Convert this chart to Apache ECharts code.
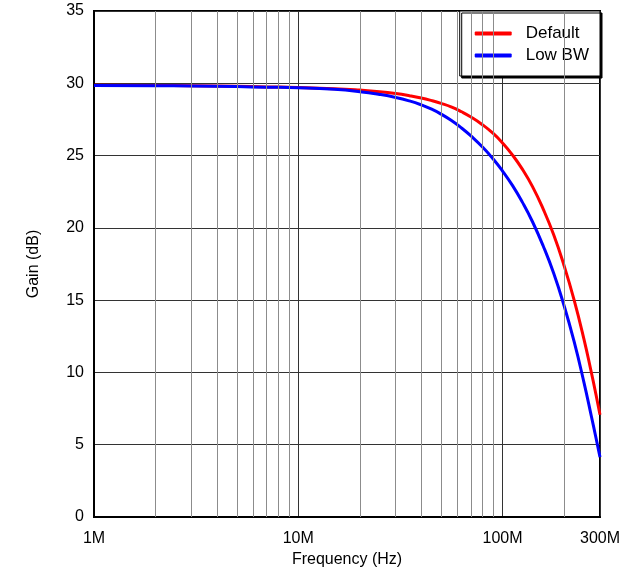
<!DOCTYPE html>
<html>
<head>
<meta charset="utf-8">
<script src="https://cdn.jsdelivr.net/npm/echarts@6/dist/echarts.min.js"></script>
<style>
html,body{margin:0;padding:0;background:#fff;}
#chart{width:634px;height:571px;}
</style>
</head>
<body>
<div id="chart"></div>
<script>
// Frequency in MHz
const freqMHz = [1, 2, 3, 5, 7, 10, 15, 20, 25, 30, 35, 40, 45, 50, 56, 63, 70, 80, 90, 100, 112, 125, 140, 158, 178, 200, 224, 250, 272, 287, 300];
const gainDefault = [29.86, 29.85, 29.83, 29.79, 29.75, 29.71, 29.63, 29.53, 29.42, 29.29, 29.14, 28.98, 28.8, 28.61, 28.37, 28.03, 27.67, 27.12, 26.53, 25.87, 25.03, 24.06, 22.87, 21.31, 19.52, 17.4, 15.02, 12.34, 10.01, 8.44, 7.07];
const gainLowBW = [29.84, 29.83, 29.81, 29.77, 29.73, 29.69, 29.58, 29.42, 29.23, 29.02, 28.78, 28.51, 28.21, 27.87, 27.44, 26.91, 26.36, 25.57, 24.76, 23.93, 22.92, 21.78, 20.44, 18.76, 16.86, 14.63, 12.14, 9.35, 6.99, 5.45, 4.14];
const minorGridMHz = [2, 3, 4, 5, 6, 7, 8, 9, 20, 30, 40, 50, 60, 70, 80, 90, 200];
const seriesNames = ['Default', 'Low BW'];
const yTicks = [0, 5, 10, 15, 20, 25, 30, 35];

const toPairs = (ys) => freqMHz.map((f, i) => [f * 1e6, ys[i]]);

const chart = echarts.init(document.getElementById('chart'));
const font = '"Liberation Sans", Arial, sans-serif';
chart.setOption({
  animation: false,
  backgroundColor: '#fff',
  grid: { left: 94, top: 11, width: 506, height: 506, containLabel: false, outerBoundsMode: 'none',
    show: true, borderColor: '#000', borderWidth: 2, backgroundColor: 'transparent' },
  legend: {
    data: seriesNames,
    orient: 'vertical',
    right: 34, top: 11,
    backgroundColor: '#fff',
    borderColor: '#000', borderWidth: 1,
    shadowColor: '#000', shadowBlur: 0, shadowOffsetX: 2, shadowOffsetY: 2,
    padding: [13, 11, 11, 15],
    itemGap: 3,
    itemWidth: 37, itemHeight: 4,
    icon: 'roundRect',
    textStyle: { fontFamily: font, fontSize: 17, color: '#000', lineHeight: 19, padding: [0, 0, 0, 9] }
  },
  xAxis: {
    type: 'log', logBase: 10, min: 1e6, max: 3e8,
    name: 'Frequency (Hz)', nameLocation: 'middle', nameGap: 32,
    nameTextStyle: { fontFamily: font, fontSize: 16, color: '#000' },
    axisLine: { show: true, lineStyle: { color: '#000', width: 2 } },
    axisTick: { show: false },
    axisLabel: { fontFamily: font, fontSize: 16, color: '#000', margin: 14, showMaxLabel: true, showMinLabel: true,
      formatter: (v) => Math.round(v / 1e6) + 'M' },
    splitLine: { show: true, lineStyle: { color: '#333', width: 1 } }
  },
  yAxis: {
    type: 'value', min: 0, max: 35, interval: 5,
    name: 'Gain (dB)', nameLocation: 'middle', nameGap: 52,
    nameTextStyle: { fontFamily: font, fontSize: 16, color: '#000' },
    axisLine: { show: true, lineStyle: { color: '#000', width: 2 } },
    axisTick: { show: false },
    axisLabel: { fontFamily: font, fontSize: 16, color: '#000', margin: 10,
      formatter: (v) => yTicks.includes(v) ? String(v) : '' },
    splitLine: { show: true, lineStyle: { color: '#333', width: 1 } }
  },
  series: [
    {
      name: 'grid-minor', type: 'line', data: [], silent: true, z: 1,
      markLine: {
        silent: true, symbol: 'none', animation: false,
        label: { show: false },
        lineStyle: { color: '#8c8c8c', type: 'solid', width: 1 },
        data: minorGridMHz.map(f => ({ xAxis: f * 1e6 }))
      }
    },
    {
      name: seriesNames[0], type: 'line', data: toPairs(gainDefault), smooth: 0.5,
      showSymbol: false, symbol: 'none', z: 3,
      lineStyle: { color: '#ff0000', width: 3 }, itemStyle: { color: '#ff0000' }
    },
    {
      name: seriesNames[1], type: 'line', data: toPairs(gainLowBW), smooth: 0.5,
      showSymbol: false, symbol: 'none', z: 4,
      lineStyle: { color: '#0000ff', width: 3 }, itemStyle: { color: '#0000ff' }
    }
  ]
});
</script>
</body>
</html>
